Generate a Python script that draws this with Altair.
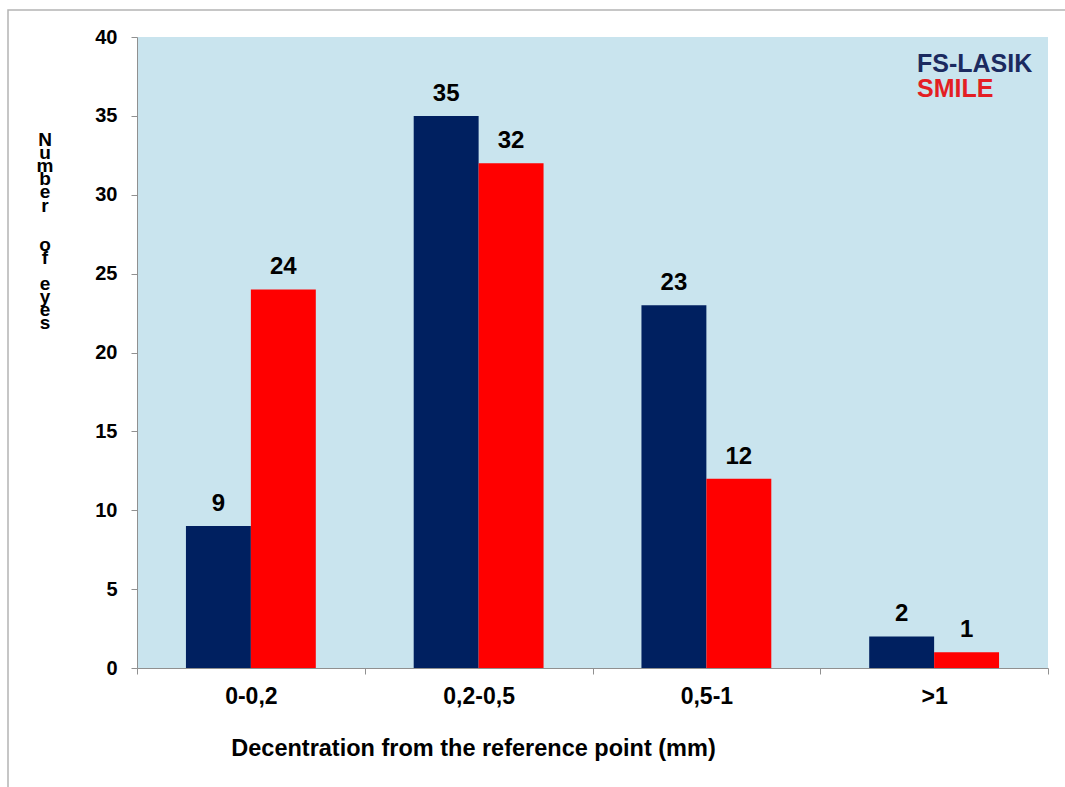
import altair as alt
import pandas as pd

categories = ["0-0,2", "0,2-0,5", "0,5-1", ">1"]
series = ["FS-LASIK", "SMILE"]
fs_lasik = [9, 35, 23, 2]
smile = [24, 32, 12, 1]
colors = ["#002060", "#FF0000"]
legend_colors = ["#1B2A60", "#E31E24"]
y_title = ["N", "u", "m", "b", "e", "r", "", "", "o", "f", "", "e", "y", "e", "s"]

rows = []
for c, a, b in zip(categories, fs_lasik, smile):
    rows.append({"cat": c, "series": series[0], "value": a})
    rows.append({"cat": c, "series": series[1], "value": b})
df = pd.DataFrame(rows)

FONT = "Liberation Sans"
W, H = 911, 631

x_enc = alt.X(
    "cat:N",
    sort=categories,
    scale=alt.Scale(paddingInner=0, paddingOuter=0),
    axis=alt.Axis(
        title="Decentration from the reference point (mm)",
        labelAngle=0,
        labelFont=FONT,
        labelFontSize=23,
        labelFontWeight="bold",
        labelColor="black",
        labelPadding=11,
        tickBand="extent",
        tickSize=6,
        tickColor="#909090",
        domainColor="#909090",
        titleFont=FONT,
        titleFontSize=23.5,
        titleFontWeight="bold",
        titleColor="black",
        titleAnchor="start",
        titleAlign="center",
        titleBaseline="alphabetic",
        titleX=336,
        titleY=87,
    ),
)
xoff = alt.XOffset("series:N", sort=series, scale=alt.Scale(paddingOuter=0.754, paddingInner=0))
y_enc = alt.Y(
    "value:Q",
    scale=alt.Scale(domain=[0, 40], nice=False),
    axis=alt.Axis(
        values=list(range(0, 41, 5)),
        grid=False,
        labelFont=FONT,
        labelFontSize=20,
        labelFontWeight="bold",
        labelColor="black",
        labelPadding=14,
        tickSize=6,
        tickColor="#909090",
        domainColor="#909090",
        title=None,
    ),
)
color_enc = alt.Color("series:N", sort=series, scale=alt.Scale(domain=series, range=colors), legend=None)

base = alt.Chart(df)
bars = base.mark_bar(opacity=1).encode(x=x_enc, xOffset=xoff, y=y_enc, color=color_enc)
labels = base.mark_text(
    font=FONT, fontSize=24, fontWeight="bold", color="black", baseline="alphabetic", dy=-15
).encode(x=x_enc, xOffset=xoff, y=y_enc, text="value:Q")
main = alt.layer(bars, labels)

title_df = pd.DataFrame({"letter": y_title, "i": list(range(len(y_title)))})
title_df = title_df[title_df.letter != ""]
ytitle = alt.Chart(title_df).transform_calculate(
    py="109 + 13.1 * datum.i"
).mark_text(
    font=FONT, fontSize=19, fontWeight="bold", color="black", align="center", baseline="alphabetic"
).encode(text="letter:N", x=alt.value(-92), y=alt.Y("py:Q", scale=None, axis=None))

leg_df = pd.DataFrame({"series": series, "col": legend_colors})
leg1 = alt.Chart(leg_df[leg_df.series == series[0]]).mark_text(
    font=FONT, fontSize=25, fontWeight="bold", align="left", baseline="alphabetic", color=legend_colors[0]
).encode(text="series:N", x=alt.value(780), y=alt.value(35))
leg2 = alt.Chart(leg_df[leg_df.series == series[1]]).mark_text(
    font=FONT, fontSize=25, fontWeight="bold", align="left", baseline="alphabetic", color=legend_colors[1]
).encode(text="series:N", x=alt.value(780), y=alt.value(60))

border = alt.Chart(pd.DataFrame({"a": [0]})).mark_rect(
    fill=None, stroke="#B4B4B4", strokeWidth=1.5
).encode(x=alt.value(-129), y=alt.value(-27), x2=alt.value(1000), y2=alt.value(800))

chart = alt.layer(border, main, ytitle, leg1, leg2).resolve_scale(y="independent").properties(
    width=W, height=H,
    autosize=alt.AutoSizeParams(type="none"),
    padding={"left": 137, "top": 37, "right": 17, "bottom": 119},
    background="white",
).configure_view(fill="#C9E4EE", stroke=None)

chart.save("out.html", embed_options={"renderer": "svg", "actions": False})
